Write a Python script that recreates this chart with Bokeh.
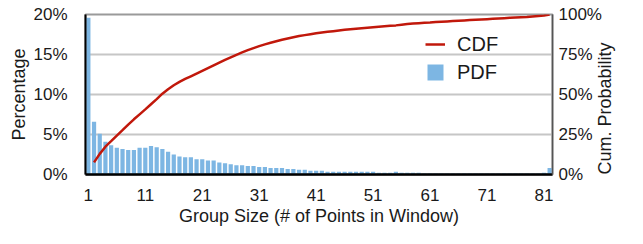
import math
from bokeh.plotting import figure
from bokeh.models import Range1d, LinearAxis, FixedTicker, PrintfTickFormatter, Legend, LegendItem
from bokeh.embed import file_html
from bokeh.resources import INLINE

# ---- data ----
groups = list(range(1, 83))
pdf = [19.6, 6.6, 5.1, 4.1, 3.65, 3.35, 3.2, 3.05, 3.05, 3.35,
       3.35, 3.55, 3.4, 3.2, 2.85, 2.5, 2.25, 2.15, 2.15, 1.9,
       1.9, 1.76, 1.74, 1.5, 1.4, 1.28, 1.16, 1.16, 1.05, 1.05,
       0.93, 0.93, 0.81, 0.81, 0.81, 0.7, 0.7, 0.58, 0.58, 0.47,
       0.47, 0.47, 0.35, 0.35, 0.35, 0.35, 0.35, 0.35, 0.35, 0.35,
       0.35, 0.23, 0.23, 0.23, 0.35, 0.23, 0.23, 0.23, 0.23, 0.12,
       0.12, 0.12, 0.12, 0.12, 0.12, 0.12, 0.12, 0.12, 0.12, 0.12,
       0.12, 0.12, 0.12, 0.12, 0.12, 0.12, 0.12, 0.12, 0.12, 0.12,
       0.23, 0.8]
cdf_groups = list(range(2, 83))
cdf = [7.6, 12.9, 17.4, 20.8, 24.3, 27.7, 31.2, 34.5, 37.6, 40.7,
       43.9, 47.1, 50.5, 53.3, 55.8, 57.9, 59.7, 61.4, 63.1, 64.8,
       66.5, 68.2, 69.9, 71.6, 73.2, 74.8, 76.3, 77.7, 79.0, 80.2,
       81.3, 82.3, 83.3, 84.2, 85.0, 85.8, 86.5, 87.1, 87.7, 88.3,
       88.8, 89.2, 89.6, 90.0, 90.4, 90.8, 91.1, 91.4, 91.7, 92.0,
       92.3, 92.6, 92.9, 93.2, 93.6, 94.0, 94.3, 94.6, 94.8, 95.0,
       95.3, 95.5, 95.7, 95.9, 96.1, 96.3, 96.5, 96.7, 96.9, 97.1,
       97.3, 97.5, 97.7, 97.9, 98.1, 98.3, 98.5, 98.8, 99.1, 99.4,
       100.0]
x_ticks = [1, 11, 21, 31, 41, 51, 61, 71, 81]
pct_ticks = [0, 5, 10, 15, 20]
cum_ticks = [0, 25, 50, 75, 100]
x_title = "Group Size (# of Points in Window)"
y_title = "Percentage"
y2_title = "Cum. Probability"

FONT = "Liberation Sans"
TXT = "#1a1a1a"
BAR = "#7DB6E3"
LINE = "#C1180B"

p = figure(width=627, height=228, output_backend="svg", toolbar_location=None,
           x_range=Range1d(0.5, 82.5), y_range=Range1d(0, 20),
           min_border_left=85, min_border_right=75, min_border_top=14, min_border_bottom=54)
p.extra_y_ranges = {"cdf": Range1d(0, 100)}

p.outline_line_color = "#9a9a9a"
p.outline_line_width = 2
p.xgrid.visible = False
p.ygrid.ticker = FixedTicker(ticks=[5, 10, 15])
p.ygrid.grid_line_color = "#c6c6c6"
p.ygrid.grid_line_width = 2

bars = p.vbar(x=groups, top=pdf, width=0.74, fill_color=BAR, line_color=None)
line = p.line(x=cdf_groups, y=cdf, y_range_name="cdf", line_color=LINE, line_width=2.5)

def style(ax, label):
    ax.major_tick_line_color = None
    ax.minor_tick_line_color = None
    ax.major_label_text_font = FONT
    ax.major_label_text_font_size = "17px"
    ax.major_label_text_color = TXT
    ax.axis_label = label
    ax.axis_label_text_font = FONT
    ax.axis_label_text_font_size = "18px"
    ax.axis_label_text_font_style = "normal"
    ax.axis_label_text_color = TXT

xa = p.xaxis[0]
style(xa, x_title)
xa.ticker = FixedTicker(ticks=x_ticks)
xa.axis_line_color = "black"
xa.axis_line_width = 2.5
xa.major_label_standoff = 8
xa.axis_label_standoff = 2

ya = p.yaxis[0]
style(ya, y_title)
ya.ticker = FixedTicker(ticks=pct_ticks)
ya.formatter = PrintfTickFormatter(format="%d%%")
ya.axis_line_color = "black"
ya.axis_line_width = 2
ya.major_label_standoff = 12
ya.axis_label_standoff = 1

ra = LinearAxis(y_range_name="cdf")
style(ra, y2_title)
ra.ticker = FixedTicker(ticks=cum_ticks)
ra.formatter = PrintfTickFormatter(format="%d%%")
ra.axis_line_color = "#555555"
ra.axis_line_width = 1.5
ra.major_label_standoff = 0
ra.axis_label_standoff = 0
ra.axis_label_orientation = math.pi / 2
try:
    ra.axis_label_align = "start"
except AttributeError:
    pass
p.add_layout(ra, "right")

legend = Legend(items=[LegendItem(label="CDF", renderers=[line]),
                       LegendItem(label="PDF", renderers=[bars])],
                location=(340, 90), padding=0, spacing=4,
                glyph_width=20, glyph_height=20, label_height=24, label_standoff=12,
                label_text_font=FONT, label_text_font_size="20px", label_text_color=TXT,
                background_fill_alpha=0, border_line_color=None)
p.add_layout(legend)

open("out.html", "w").write(file_html(p, INLINE))
